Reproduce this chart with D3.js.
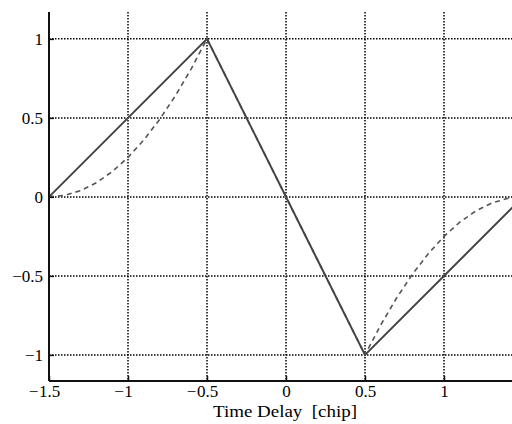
<!DOCTYPE html>
<html>
<head>
<meta charset="utf-8">
<script src="https://cdn.jsdelivr.net/npm/d3@7"></script>
<style>
  html, body { margin: 0; padding: 0; background: #fff; overflow: hidden; }
  svg { display: block; }
  text { font-family: "Liberation Serif", "DejaVu Serif", serif; fill: #000; }
</style>
</head>
<body>
<svg id="chart" width="512" height="424"></svg>
<script>
// Tick values and labels
const xTicks = [-1.5, -1, -0.5, 0, 0.5, 1];
const xTickLabels = ["\u22121.5", "\u22121", "\u22120.5", "0", "0.5", "1"];
const yTicks = [-1, -0.5, 0, 0.5, 1];
const yTickLabels = ["\u22121", "\u22120.5", "0", "0.5", "1"];

// Solid curve: linear discriminator (triangle shape)
const solidX = [-1.5, -0.5, 0.5, 1.5];
const solidY = [0, 1, -1, 0];

// Dashed curve: quadratic wings, linear core
const dashedX = [-1.5, -1.4, -1.3, -1.2, -1.1, -1.0, -0.9, -0.8, -0.7, -0.6, -0.5,
                 0, 0.5,
                 0.6, 0.7, 0.8, 0.9, 1.0, 1.1, 1.2, 1.3, 1.4, 1.5];
const dashedY = [0, 0.01, 0.04, 0.09, 0.16, 0.25, 0.36, 0.49, 0.64, 0.81, 1.0,
                 0, -1.0,
                 -0.81, -0.64, -0.49, -0.36, -0.25, -0.16, -0.09, -0.04, -0.01, 0];

const xLabel = "Time Delay  [chip]";

const svg = d3.select("#chart");
const mLeft = 49, mRight = 523, mTop = 12, mBottom = 381;
const tickFont = "17px";

const x = d3.scaleLinear().domain([-1.5, 1.5]).range([mLeft, mRight]);
const y = d3.scaleLinear().domain([-1.165, 1.17]).range([mBottom, mTop]);

const plot = svg.append("g");

// Grid lines
plot.append("g").selectAll("line").data(xTicks.slice(1)).join("line")
  .attr("x1", d => x(d)).attr("x2", d => x(d))
  .attr("y1", mTop).attr("y2", mBottom)
  .attr("stroke", "#000").attr("stroke-width", 1.5)
  .attr("stroke-dasharray", "1.5,1.5");
plot.append("g").selectAll("line").data(yTicks).join("line")
  .attr("x1", mLeft).attr("x2", mRight)
  .attr("y1", d => y(d)).attr("y2", d => y(d))
  .attr("stroke", "#000").attr("stroke-width", 1.5)
  .attr("stroke-dasharray", "1.5,1.5");

const line = d3.line().x(d => x(d[0])).y(d => y(d[1]));

// Dashed curve
plot.append("path")
  .datum(dashedX.map((v, i) => [v, dashedY[i]]))
  .attr("d", line)
  .attr("fill", "none").attr("stroke", "#555").attr("stroke-width", 1.6)
  .attr("stroke-dasharray", "5,4");

// Solid curve
plot.append("path")
  .datum(solidX.map((v, i) => [v, solidY[i]]))
  .attr("d", line)
  .attr("fill", "none").attr("stroke", "#444").attr("stroke-width", 2);

// Axes
const xAxis = d3.axisBottom(x).tickValues(xTicks).tickSize(-5)
  .tickFormat((d, i) => xTickLabels[i]).tickPadding(4);
const yAxis = d3.axisLeft(y).tickValues(yTicks).tickSize(-5)
  .tickFormat((d, i) => yTickLabels[i]).tickPadding(6);

const gx = svg.append("g").attr("transform", `translate(0,${mBottom})`).call(xAxis);
const gy = svg.append("g").attr("transform", `translate(${mLeft},0)`).call(yAxis);

[gx, gy].forEach(g => {
  g.select(".domain").attr("stroke", "#111").attr("stroke-width", 2);
  g.selectAll(".tick line").attr("stroke", "#111").attr("stroke-width", 1.5);
  g.selectAll(".tick text").style("font-family", "Liberation Serif, serif")
    .style("font-size", tickFont).attr("fill", "#000");
});
gx.select(".domain").attr("d", `M${mLeft},0H${mRight}`);
gy.select(".domain").attr("d", `M0,${mBottom}V${mTop}`);

// X tick labels: centre the digits on the tick, hang the minus sign to the left
gx.selectAll(".tick").each(function (d, i) {
  const t = d3.select(this).select("text");
  const label = xTickLabels[i];
  if (label.startsWith("\u2212")) {
    t.text(label.slice(1));
    const w = t.node().getComputedTextLength();
    d3.select(this).append("text")
      .attr("x", -w / 2 - 0.5)
      .attr("y", t.attr("y"))
      .attr("dy", t.attr("dy"))
      .attr("text-anchor", "end")
      .style("font-family", "Liberation Serif, serif")
      .style("font-size", tickFont)
      .attr("fill", "#000")
      .text("\u2212");
  }
});

// X axis title
svg.append("text")
  .attr("x", 285).attr("y", 417)
  .attr("text-anchor", "middle")
  .style("font-size", "16px")
  .attr("xml:space", "preserve")
  .attr("textLength", 144)
  .attr("lengthAdjust", "spacingAndGlyphs")
  .text(xLabel);
</script>
</body>
</html>
